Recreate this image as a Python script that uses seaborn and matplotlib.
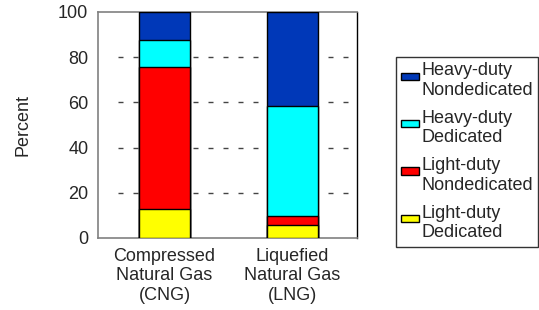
import seaborn as sns
import matplotlib.pyplot as plt
import matplotlib.patches as mpatches
from matplotlib.legend_handler import HandlerPatch
import pandas as pd
import numpy as np

# shares of natural gas vehicles by fuel type (percent)
fuels = ["Compressed\nNatural Gas\n(CNG)", "Liquefied\nNatural Gas\n(LNG)"]
light_dedicated = [13.0, 5.6]
light_nondedicated = [62.5, 4.0]
heavy_dedicated = [12.0, 49.0]
heavy_nondedicated = [12.5, 41.4]

series = [
    ("Light-duty\nDedicated", light_dedicated, "#ffff00"),
    ("Light-duty\nNondedicated", light_nondedicated, "#ff0000"),
    ("Heavy-duty\nDedicated", heavy_dedicated, "#00ffff"),
    ("Heavy-duty\nNondedicated", heavy_nondedicated, "#0038b8"),
]

sns.set_style('white')
plt.rcParams['font.family'] = ['Liberation Sans', 'DejaVu Sans']

fig = plt.figure(figsize=(5.39, 3.10), dpi=100)
ax = fig.add_axes([0.1818, 0.2323, 0.4805, 0.729])

# cumulative tops, drawn from the top series down so lower ones overlay
cum = np.cumsum([s[1] for s in series], axis=0)
handles = []
for i in range(len(series) - 1, -1, -1):
    name, vals, col = series[i]
    df = pd.DataFrame({"fuel": fuels, "top": cum[i]})
    sns.barplot(data=df, x="fuel", y="top", color=col, width=0.4,
                edgecolor="black", linewidth=1, saturation=1, ax=ax, zorder=3)
    handles.append(mpatches.Patch(facecolor=col, edgecolor="black", linewidth=1, label=name))

ax.set_xlim(-0.52, 1.504)
ax.set_ylim(0, 100)
ax.set_yticks([0, 20, 40, 60, 80, 100])
for y in [20, 40, 60, 80]:
    ax.axhline(y, xmin=0.077, color="#444444", lw=1, ls=(0, (3.6, 7.2)), zorder=1)

ax.tick_params(axis="both", length=0, labelsize=13)
ax.tick_params(axis="y", pad=7)
ax.tick_params(axis="x", pad=7)
ax.set_xlabel("")
ax.set_ylabel("Percent", fontsize=13)
ax.yaxis.set_label_coords(-0.255, 0.5)

for side in ["left", "bottom", "top"]:
    ax.spines[side].set_color("#808080")
    ax.spines[side].set_linewidth(1.2)
ax.spines["right"].set_color("black")
ax.spines["right"].set_linewidth(1)


def top_patch(legend, orig_handle, xdescent, ydescent, width, height, fontsize):
    # small box aligned with the first text line
    return mpatches.Rectangle((-xdescent, -ydescent + height * 0.56), width, height * 0.26)


leg = fig.legend(handles=handles, loc="upper left", bbox_to_anchor=(396 / 539, 1 - 57 / 310),
                 fontsize=13, frameon=True, fancybox=False, edgecolor="black",
                 handlelength=1.0, handleheight=2.0, handletextpad=0.1,
                 labelspacing=0.6, borderpad=0.3, borderaxespad=0,
                 handler_map={mpatches.Patch: HandlerPatch(patch_func=top_patch)})
leg.get_frame().set_linewidth(1)

fig.savefig("out.png", dpi=100)
